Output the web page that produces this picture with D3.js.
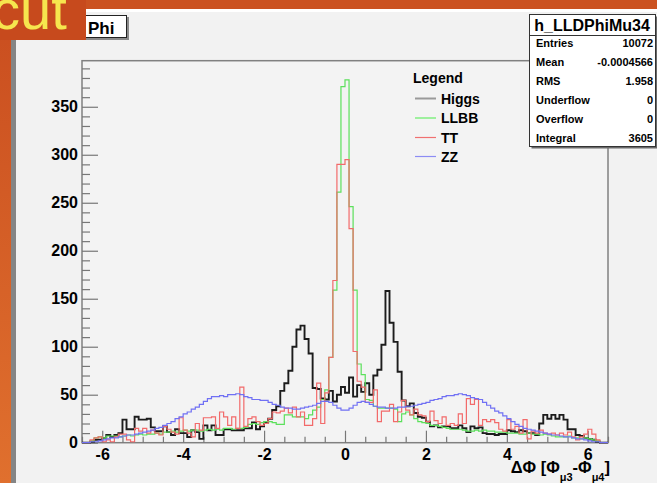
<!DOCTYPE html>
<html><head><meta charset="utf-8">
<script src="https://cdn.jsdelivr.net/npm/d3@7"></script>
<style>body{margin:0;background:#f2f2f2;} svg{display:block;}</style>
</head><body>
<svg id="c" width="657" height="483"></svg>
<script>
// ---- data (bin width 0.1, bins from -6.5 to 6.5) ----
const binLo = -6.5, binWidth = 0.1;
const higgs = [
0,0,1,3,3,5,8,6,8,10,
24,14,14,27,24,24,25,16,12,12,
17,11,8,14,10,10,6,13,11,4,
18,13,18,8,8,14,14,13,13,13,
15,15,21,14,17,21,25,34,38,54,
62,75,100,118,122,108,93,57,56,46,
45,54,43,50,58,52,68,48,60,53,
62,50,70,76,102,158,125,105,74,44,
38,41,31,27,26,22,17,18,16,17,
17,15,15,18,15,11,17,15,16,10,
9,9,8,9,9,13,12,11,13,12,
10,10,8,20,29,25,29,25,29,24,
14,14,8,7,5,4,3,1,0,0];
const llbb = [
0,0,2,5,6,5,7,7,7,6,
7,8,7,8,9,8,9,9,10,9,
11,11,12,11,12,13,12,13,13,12,
13,14,13,14,13,15,15,14,15,15,
16,19,20,19,21,22,22,21,19,19,
29,29,27,27,27,25,29,34,37,45,
55,89,159,261,371,378,246,159,82,71,
45,44,38,36,36,36,36,35,22,30,
32,29,25,22,21,20,18,18,17,16,
15,14,14,14,13,12,12,13,12,13,
12,12,11,11,11,10,10,10,9,9,
10,9,9,8,9,8,7,6,6,6,
7,5,5,4,5,4,3,2,0,0];
const tt = [
0,0,3,5,6,1,3,1,6,9,
9,3,1,15,12,15,10,13,10,8,
17,14,11,9,26,13,10,6,20,13,
26,26,27,15,32,27,18,27,15,58,
17,25,27,22,18,20,25,32,31,33,
36,31,37,27,32,18,18,25,62,20,
52,89,169,290,290,295,223,95,64,58,
42,42,55,22,33,33,40,22,32,44,
34,29,35,29,28,22,33,23,20,27,
18,20,18,30,20,46,40,45,18,24,
22,24,21,14,12,24,14,17,10,24,
4,12,10,13,10,9,10,8,10,8,
11,6,3,6,9,14,9,3,0,0];
const zz = [
0,0,1,1,2,3,4,5,5,6,
7,8,8,9,10,11,12,13,15,16,
18,20,22,25,27,30,32,35,37,40,
43,46,48,48,49,48,50,50,51,50,
48,47,45,45,44,44,42,40,39,37,
36,36,35,35,36,37,38,39,41,43,
43,42,39,36,34,34,36,39,42,43,
42,40,38,37,37,36,36,36,37,37,
38,38,39,40,41,42,44,45,46,48,
49,49,50,51,50,49,47,46,45,42,
39,36,33,31,28,25,22,19,17,15,
14,13,12,11,10,9,8,8,7,6,
6,5,4,4,3,2,1,1,0,0];
const seriesNames = ["Higgs","LLBB","TT","ZZ"];
const xTicks = [-6,-4,-2,0,2,4,6];
const yTicks = [0,50,100,150,200,250,300,350];
const statsTitle = "h_LLDPhiMu34";
const statsLabels = ["Entries","Mean","RMS","Underflow","Overflow","Integral"];
const statsValues = ["10072","-0.0004566","1.958","0","0","3605"];
const histTitle = "Phi";
const slideText = "cut";

// ---- layout ----
const svg = d3.select("#c");
const W = 657, H = 483;
const F = {l:82, r:608, t:60.7, b:442.7};
const x = d3.scaleLinear().domain([-6.5, 6.5]).range([F.l, F.r]);
const y = d3.scaleLinear().domain([0, 398]).range([F.b, F.t]);
const font = "'Liberation Sans', Arial, Helvetica, sans-serif";

// background (slide + canvas)
const defs = svg.append("defs");
const g1 = defs.append("linearGradient").attr("id","og").attr("x1",0).attr("y1",0).attr("x2",0).attr("y2",1);
g1.append("stop").attr("offset","0%").attr("stop-color","#c94d1f");
g1.append("stop").attr("offset","100%").attr("stop-color","#e0702e");
svg.append("rect").attr("width",W).attr("height",H).attr("fill","#f2f2f2");
svg.append("rect").attr("x",0).attr("y",0).attr("width",W).attr("height",9).attr("fill","#cb5221");
svg.append("rect").attr("x",16).attr("y",9).attr("width",W-16).attr("height",3).attr("fill","#ffffff");
svg.append("rect").attr("x",0).attr("y",0).attr("width",11).attr("height",H).attr("fill","url(#og)");
svg.append("rect").attr("x",11).attr("y",9).attr("width",5).attr("height",H-9).attr("fill","#858585");

// histogram title box
svg.append("rect").attr("x",62).attr("y",17).attr("width",67).attr("height",23).attr("fill","#8a8a8a");
svg.append("rect").attr("x",60.5).attr("y",15.5).attr("width",66).attr("height",22).attr("fill","#fff").attr("stroke","#222").attr("stroke-width",1);
svg.append("text").attr("x",88).attr("y",34).attr("font-family",font).attr("font-weight","bold").attr("font-size",17).text(histTitle);

// orange slide text box
svg.append("rect").attr("x",0).attr("y",0).attr("width",86).attr("height",40).attr("fill","#c74a1d");
svg.append("text").attr("x",-8).attr("y",29).attr("font-family",font).attr("font-size",56).attr("fill","#f6e64e").text(slideText);

// frame
svg.append("rect").attr("x",F.l).attr("y",F.t).attr("width",F.r-F.l).attr("height",F.b-F.t)
  .attr("fill","#f3f3f3").attr("stroke","#808080").attr("stroke-width",1.5);

// axes
function styleAxis(g){
  g.select(".domain").remove();
  g.selectAll(".tick line").attr("stroke","#777").attr("stroke-width",1.2);
  g.selectAll(".tick text").attr("font-family",font).attr("font-weight","bold").attr("font-size",16).attr("fill","#000");
}
const yMinor = d3.range(0, 400, 10).filter(v => v % 50 !== 0);
svg.append("g").attr("transform",`translate(${F.l},0)`)
  .call(d3.axisLeft(y).tickValues(yMinor).tickSize(-8).tickFormat(""))
  .call(styleAxis);
svg.append("g").attr("transform",`translate(${F.l},0)`)
  .call(d3.axisLeft(y).tickValues(yTicks).tickSize(-16).tickPadding(4).tickFormat(d => String(d)))
  .call(styleAxis);
const xMinor = d3.range(-6.5, 6.51, 0.5).filter(v => Math.abs(v % 2) > 1e-6);
svg.append("g").attr("transform",`translate(0,${F.b})`)
  .call(d3.axisBottom(x).tickValues(xMinor).tickSize(-6).tickFormat(""))
  .call(styleAxis);
svg.append("g").attr("transform",`translate(0,${F.b})`)
  .call(d3.axisBottom(x).tickValues(xTicks).tickSize(-12).tickPadding(6).tickFormat(d => String(d)))
  .call(styleAxis);

// histograms
const line = d3.line().x(d => x(d[0])).y(d => y(d[1])).curve(d3.curveStepAfter);
function histPoints(vals){
  const pts = [[binLo, 0]];
  vals.forEach((v,i) => pts.push([binLo + i*binWidth, v]));
  pts.push([binLo + vals.length*binWidth, 0]);
  return pts;
}
const series = [
  {name:seriesNames[0], vals:higgs, color:"#1c1c1c", w:1.9},
  {name:seriesNames[1], vals:llbb, color:"#5ce05c", w:1.2},
  {name:seriesNames[2], vals:tt, color:"#f26a6a", w:1.2},
  {name:seriesNames[3], vals:zz, color:"#7070f4", w:1.2}
];
series.forEach(s => {
  svg.append("path").attr("d", line(histPoints(s.vals))).attr("fill","none")
    .attr("stroke", s.color).attr("stroke-width", s.w).attr("stroke-linejoin","miter");
});

// axis title
const at = svg.append("text").attr("x",610).attr("y",473).attr("text-anchor","end")
  .attr("font-family",font).attr("font-weight","bold").attr("font-size",16.5);
at.append("tspan").text("ΔΦ [Φ");
at.append("tspan").attr("font-size",11).attr("dy",8).text("μ3");
at.append("tspan").attr("dy",-8).text("-Φ");
at.append("tspan").attr("font-size",11).attr("dy",8).text("μ4");
at.append("tspan").attr("dy",-8).text("]");

// legend
const legColors = ["#9a9a9a","#66ee66","#f07070","#8c8cf4"];
const legW = [2,1.2,1.2,1.2];
svg.append("text").attr("x",413).attr("y",83).attr("font-family",font).attr("font-weight","bold").attr("font-size",14).text("Legend");
const legY = [98.5, 118, 137.5, 156.5];
seriesNames.forEach((n,i) => {
  svg.append("line").attr("x1",415).attr("x2",436).attr("y1",legY[i]).attr("y2",legY[i])
    .attr("stroke",legColors[i]).attr("stroke-width",legW[i]);
  svg.append("text").attr("x",441).attr("y",legY[i]+5).attr("font-family",font).attr("font-weight","bold").attr("font-size",14).text(n);
});

// stats box
const sb = {x:529.5, y:14.5, w:126, h:132};
svg.append("rect").attr("x",sb.x+2).attr("y",sb.y+2).attr("width",sb.w).attr("height",sb.h).attr("fill","#6a6a6a");
svg.append("rect").attr("x",sb.x).attr("y",sb.y).attr("width",sb.w).attr("height",sb.h).attr("fill","#fff").attr("stroke","#333").attr("stroke-width",1);
svg.append("line").attr("x1",sb.x).attr("x2",sb.x+sb.w).attr("y1",35.5).attr("y2",35.5).attr("stroke","#333");
svg.append("text").attr("x",592).attr("y",31).attr("text-anchor","middle").attr("font-family",font).attr("font-weight","bold").attr("font-size",16).text(statsTitle);
statsLabels.forEach((lab,i) => {
  const cy = 43.3 + i*18.9;
  svg.append("text").attr("x",536).attr("y",cy+4).attr("font-family",font).attr("font-weight","bold").attr("font-size",11).text(lab);
  svg.append("text").attr("x",653).attr("y",cy+4).attr("text-anchor","end").attr("font-family",font).attr("font-weight","bold").attr("font-size",11).text(statsValues[i]);
});
</script>
</body></html>
